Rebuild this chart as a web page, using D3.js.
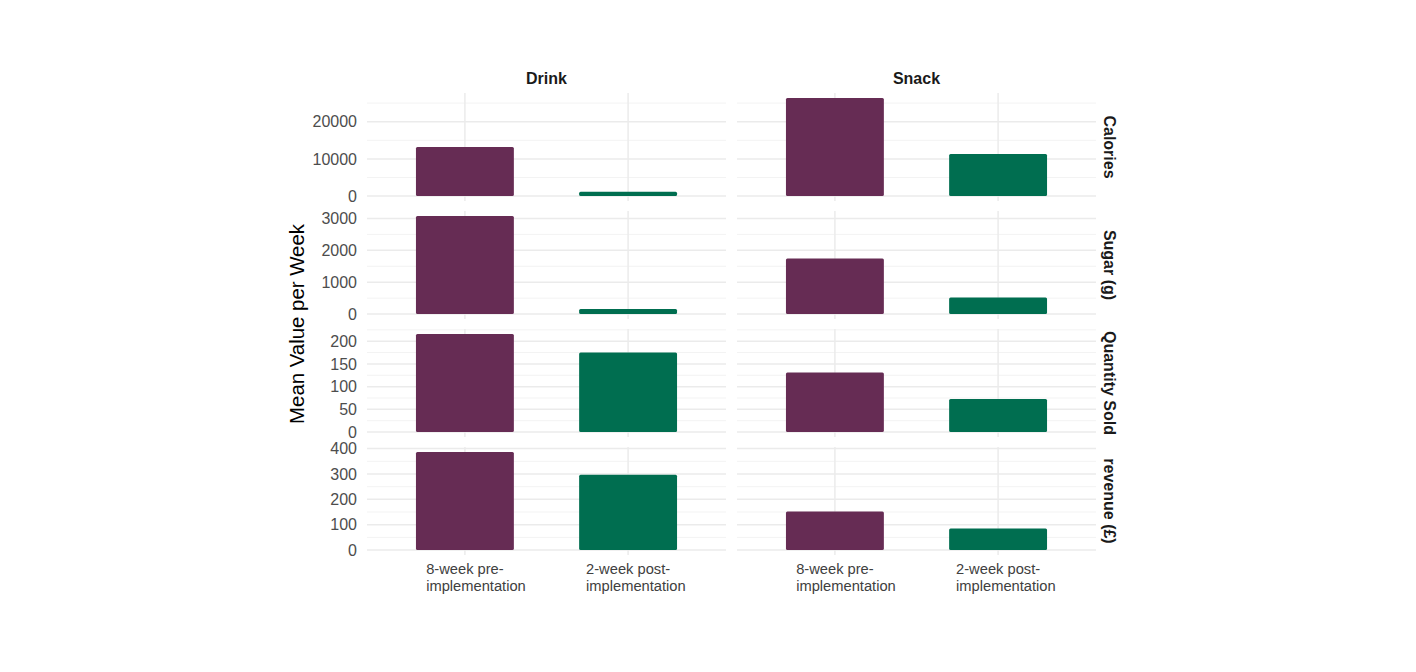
<!DOCTYPE html>
<html>
<head>
<meta charset="utf-8">
<script src="https://cdn.jsdelivr.net/npm/d3@7"></script>
<style>
    body { margin: 0; background: #fff; }
    text { font-family: "Liberation Sans", Arial, sans-serif; }
</style>
</head>
<body>
<div id="chart"></div>
<script>
var periods = ["8-week pre-implementation", "2-week post-implementation"];
var periodLabels = [["8-week pre-", "implementation"], ["2-week post-", "implementation"]];
var productTypes = ["Drink", "Snack"];
var metrics = ["Calories", "Sugar (g)", "Quantity Sold", "revenue (\u00a3)"];

// mean value per week, [pre, post]
var drinkCalories = [13200, 1150];
var snackCalories = [26400, 11300];
var drinkSugar = [3080, 160];
var snackSugar = [1740, 520];
var drinkQuantity = [216, 175];
var snackQuantity = [131, 73];
var drinkRevenue = [387, 297];
var snackRevenue = [152, 85];

var caloriesTicks = [0, 10000, 20000];
var sugarTicks = [0, 1000, 2000, 3000];
var quantityTicks = [0, 50, 100, 150, 200];
var revenueTicks = [0, 100, 200, 300, 400];

var rows = [
    {metric: metrics[0], ticks: caloriesTicks, values: [drinkCalories, snackCalories]},
    {metric: metrics[1], ticks: sugarTicks, values: [drinkSugar, snackSugar]},
    {metric: metrics[2], ticks: quantityTicks, values: [drinkQuantity, snackQuantity]},
    {metric: metrics[3], ticks: revenueTicks, values: [drinkRevenue, snackRevenue]}
];

var width = 1416, height = 672;
var panelLeft = [367, 737];
var panelWidth = 359;
var panelTop = 93;
var panelHeight = 108;
var rowPitch = 118;
var colors = ["#662c54", "#006e50"];
var gridMajor = "#ebebeb", gridMinor = "#f3f3f3";

var svg = d3.select("#chart").append("svg")
    .attr("width", width)
    .attr("height", height);

rows.forEach(function (row, r) {
    var top = panelTop + r * rowPitch;
    var maxVal = d3.max(row.values, function (v) { return d3.max(v); });
    var y = d3.scaleLinear()
        .domain([-0.05 * maxVal, 1.05 * maxVal])
        .range([top + panelHeight, top]);

    var step = row.ticks[1] - row.ticks[0];
    var minor = [row.ticks[0] - step / 2].concat(row.ticks.map(function (t) { return t + step / 2; }))
        .filter(function (t) { return t >= y.domain()[0] && t <= y.domain()[1]; });

    productTypes.forEach(function (type, c) {
        var x = d3.scalePoint()
            .domain(periods)
            .range([panelLeft[c], panelLeft[c] + panelWidth])
            .padding(0.6);
        var barWidth = x.step() * 0.6;

        var g = svg.append("g");

        g.selectAll("line.minor")
            .data(minor)
            .enter()
            .append("line")
            .attr("x1", panelLeft[c])
            .attr("x2", panelLeft[c] + panelWidth)
            .attr("y1", function (d) { return y(d); })
            .attr("y2", function (d) { return y(d); })
            .attr("stroke", gridMinor)
            .attr("stroke-width", 1);

        g.selectAll("line.major")
            .data(row.ticks)
            .enter()
            .append("line")
            .attr("x1", panelLeft[c])
            .attr("x2", panelLeft[c] + panelWidth)
            .attr("y1", function (d) { return y(d); })
            .attr("y2", function (d) { return y(d); })
            .attr("stroke", gridMajor)
            .attr("stroke-width", 1.5);

        g.selectAll("line.vgrid")
            .data(periods)
            .enter()
            .append("line")
            .attr("x1", function (d) { return x(d); })
            .attr("x2", function (d) { return x(d); })
            .attr("y1", top)
            .attr("y2", top + panelHeight)
            .attr("stroke", gridMajor)
            .attr("stroke-width", 1.5);

        g.selectAll("rect")
            .data(row.values[c])
            .enter()
            .append("rect")
            .attr("x", function (d, i) { return x(periods[i]) - barWidth / 2; })
            .attr("y", function (d) { return y(d); })
            .attr("width", barWidth)
            .attr("height", function (d) { return y(0) - y(d); })
            .attr("rx", 1.5)
            .attr("fill", function (d, i) { return colors[i]; });

        if (c === 0) {
            g.selectAll("text.tick")
                .data(row.ticks)
                .enter()
                .append("text")
                .attr("x", panelLeft[0] - 10)
                .attr("y", function (d) { return y(d); })
                .attr("dy", "0.35em")
                .attr("text-anchor", "end")
                .attr("font-size", "16px")
                .attr("fill", "#4d4d4d")
                .text(function (d) { return d; });
        }

        if (r === 0) {
            svg.append("text")
                .attr("x", panelLeft[c] + panelWidth / 2)
                .attr("y", 84)
                .attr("text-anchor", "middle")
                .attr("font-size", "16px")
                .attr("font-weight", "bold")
                .attr("fill", "#1a1a1a")
                .text(type);
        }

        if (r === rows.length - 1) {
            periods.forEach(function (p, i) {
                var lg = svg.append("g");
                var lines = lg.selectAll("text")
                    .data(periodLabels[i])
                    .enter()
                    .append("text")
                    .attr("x", 0)
                    .attr("y", function (d, k) { return 574 + k * 17; })
                    .attr("font-size", "14.7px")
                    .attr("fill", "#404040")
                    .text(function (d) { return d; });
                // lines are left aligned, first line sits centred on the tick
                var w = lines.nodes()[0].getComputedTextLength();
                lg.attr("transform", "translate(" + (x(p) - w / 2) + ",0)");
            });
        }
    });

    svg.append("text")
        .attr("transform", "translate(1110," + (top + panelHeight / 2) + ") rotate(90)")
        .attr("text-anchor", "middle")
        .attr("dy", "0.35em")
        .attr("font-size", "16px")
        .attr("font-weight", "bold")
        .attr("fill", "#1a1a1a")
        .text(row.metric);
});

svg.append("text")
    .attr("transform", "translate(304," + (panelTop + (rows.length * rowPitch - (rowPitch - panelHeight)) / 2) + ") rotate(-90)")
    .attr("text-anchor", "middle")
    .attr("font-size", "20.4px")
    .attr("fill", "#000")
    .text("Mean Value per Week");
</script>
</body>
</html>
